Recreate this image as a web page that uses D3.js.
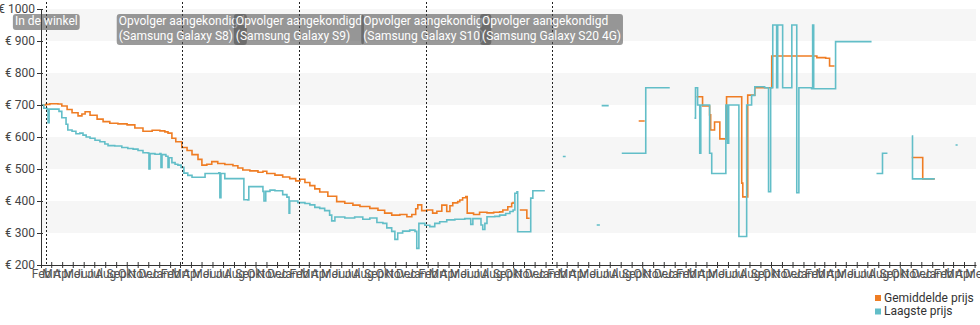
<!DOCTYPE html>
<html>
<head>
<meta charset="utf-8">
<script src="https://cdn.jsdelivr.net/npm/d3@7"></script>
<style>
  body { margin: 0; background: #fff; }
  svg { display: block; font-family: Roboto, "Noto Sans", sans-serif; }
</style>
</head>
<body>
<svg id="chart" width="980" height="325"></svg>
<script>
// Dutch month labels for the x axis
const monthNames = ["Jan", "Feb", "Mrt", "Apr", "Mei", "Jun", "Jul", "Aug", "Sep", "Okt", "Nov", "Dec"];
const yTicks = [200, 300, 400, 500, 600, 700, 800, 900, 1000];
const shadedBands = [[900, 1000], [700, 800], [500, 600], [300, 400]];

const eventDates = ["2016-02-16", "2017-03-06", "2018-02-01", "2019-01-28", "2020-01-18"];
const eventLabels = [
    ["In de winkel"],
    ["Opvolger aangekondigd", "(Samsung Galaxy S8)"],
    ["Opvolger aangekondigd", "(Samsung Galaxy S9)"],
    ["Opvolger aangekondigd", "(Samsung Galaxy S10)"],
    ["Opvolger aangekondigd", "(Samsung Galaxy S20 4G)"]
];

const seriesNames = ["Gemiddelde prijs", "Laagste prijs"];

// Gemiddelde prijs (null = no data)
const avgPrice = [
    ["2016-02-01", 700], ["2016-02-15", 702], ["2016-02-26", 704], ["2016-03-20", 703], ["2016-03-31", 697],
    ["2016-04-15", 686], ["2016-04-29", 676], ["2016-05-16", 666], ["2016-05-27", 672], ["2016-06-05", 679],
    ["2016-06-19", 668], ["2016-07-09", 656], ["2016-07-26", 648], ["2016-08-14", 643], ["2016-09-06", 641],
    ["2016-10-02", 638], ["2016-10-24", 628], ["2016-11-16", 618], ["2016-12-12", 621], ["2017-01-03", 619],
    ["2017-01-17", 616], ["2017-01-26", 612], ["2017-02-06", 596], ["2017-02-17", 585], ["2017-03-06", 567],
    ["2017-03-21", 558], ["2017-04-04", 545], ["2017-04-21", 530], ["2017-05-02", 512], ["2017-05-16", 515],
    ["2017-05-30", 523], ["2017-06-16", 517], ["2017-07-06", 514], ["2017-07-29", 510], ["2017-08-12", 503],
    ["2017-08-26", 497], ["2017-09-15", 494], ["2017-10-08", 490], ["2017-10-22", 493], ["2017-11-02", 486],
    ["2017-11-25", 481], ["2017-12-17", 475], ["2018-01-06", 470], ["2018-01-23", 463], ["2018-02-04", 468],
    ["2018-02-18", 458], ["2018-03-04", 448], ["2018-03-18", 438], ["2018-04-01", 428], ["2018-04-24", 415],
    ["2018-05-19", 398], ["2018-06-11", 393], ["2018-07-04", 387], ["2018-07-24", 383], ["2018-08-21", 377],
    ["2018-09-13", 371], ["2018-10-02", 362], ["2018-10-22", 356], ["2018-11-14", 358], ["2018-12-04", 351],
    ["2018-12-18", 358], ["2018-12-29", 376], ["2019-01-04", 388], ["2019-01-15", 370], ["2019-01-30", 372],
    ["2019-02-15", 362], ["2019-02-27", 368], ["2019-03-13", 387], ["2019-03-27", 367], ["2019-04-05", 385],
    ["2019-04-13", 394], ["2019-04-27", 398], ["2019-05-03", 403], ["2019-05-11", 410], ["2019-05-20", 414],
    ["2019-05-24", 362], ["2019-06-11", 358], ["2019-06-28", 365], ["2019-07-19", 363], ["2019-08-07", 365],
    ["2019-08-24", 366], ["2019-09-02", 372], ["2019-09-16", 382], ["2019-09-27", 393], ["2019-10-01", 398],
    ["2019-10-04", null],
    ["2019-10-20", 372], ["2019-11-09", 346], ["2019-11-17", 346], ["2019-11-18", null],
    ["2020-09-21", 650], ["2020-10-08", 650], ["2020-10-09", null],
    ["2021-03-04", 726], ["2021-03-21", 697], ["2021-04-10", 669], ["2021-04-13", 622], ["2021-04-24", 647],
    ["2021-05-09", 594], ["2021-05-28", 726], ["2021-07-10", 456], ["2021-07-13", 413], ["2021-07-27", 731],
    ["2021-08-16", 754], ["2021-10-03", 853], ["2022-01-24", 853], ["2022-02-08", 848], ["2022-03-05", 846],
    ["2022-03-16", 822], ["2022-03-30", 822], ["2022-04-01", null],
    ["2022-11-04", 536], ["2022-12-05", 469], ["2023-01-08", 469]
];

// Laagste prijs (null = no data)
const lowPrice = [
    ["2016-02-01", 700], ["2016-02-09", 690], ["2016-02-18", 687], ["2016-02-21", 645], ["2016-02-24", 687],
    ["2016-03-17", 687], ["2016-03-23", 680], ["2016-03-31", 660], ["2016-04-12", 640], ["2016-04-17", 622],
    ["2016-04-29", 618], ["2016-05-10", 610], ["2016-05-21", 612], ["2016-05-30", 606], ["2016-06-08", 600],
    ["2016-06-19", 596], ["2016-07-03", 590], ["2016-07-17", 585], ["2016-07-31", 578], ["2016-08-09", 573],
    ["2016-08-28", 572], ["2016-09-17", 567], ["2016-10-04", 564], ["2016-10-19", 562], ["2016-11-02", 558],
    ["2016-11-16", 551], ["2016-11-30", 550], ["2016-12-03", 500], ["2016-12-06", 548], ["2016-12-20", 546],
    ["2017-01-03", 548], ["2017-01-06", 505], ["2017-01-09", 545], ["2017-01-20", 540], ["2017-01-26", 505],
    ["2017-01-29", 535], ["2017-02-06", 520], ["2017-02-15", 515], ["2017-02-23", 512], ["2017-03-04", 505],
    ["2017-03-12", 487], ["2017-03-23", 480], ["2017-04-04", 474], ["2017-04-27", 474], ["2017-05-11", 486],
    ["2017-06-05", 486], ["2017-06-19", 488], ["2017-06-22", 410], ["2017-06-25", 486], ["2017-07-06", 470],
    ["2017-08-26", 470], ["2017-08-29", 404], ["2017-09-09", 403], ["2017-09-12", 445], ["2017-10-08", 445],
    ["2017-10-22", 430], ["2017-10-25", 400], ["2017-10-30", 430], ["2017-11-11", 434], ["2017-11-25", 432],
    ["2017-12-17", 420], ["2017-12-29", 412], ["2018-01-04", 362], ["2018-01-06", 400], ["2018-01-29", 395],
    ["2018-02-18", 392], ["2018-03-04", 388], ["2018-03-18", 380], ["2018-04-01", 377], ["2018-04-15", 370],
    ["2018-04-29", 356], ["2018-05-05", 338], ["2018-05-14", 350], ["2018-06-11", 347], ["2018-07-09", 350],
    ["2018-08-01", 343], ["2018-08-21", 347], ["2018-09-10", 333], ["2018-09-27", 330], ["2018-10-08", 316],
    ["2018-10-22", 305], ["2018-10-31", 280], ["2018-11-08", 300], ["2018-11-22", 306], ["2018-12-12", 309],
    ["2018-12-27", 305], ["2019-01-01", 252], ["2019-01-07", 330], ["2019-01-24", 324], ["2019-02-07", 320],
    ["2019-02-21", 330], ["2019-03-07", 335], ["2019-03-27", 341], ["2019-04-19", 343], ["2019-05-17", 345],
    ["2019-06-03", 327], ["2019-06-09", 345], ["2019-07-02", 325], ["2019-07-07", 311], ["2019-07-13", 330],
    ["2019-07-19", 351], ["2019-08-10", 352], ["2019-08-24", 356], ["2019-09-10", 361], ["2019-09-22", 367],
    ["2019-10-01", 372], ["2019-10-06", 424], ["2019-10-12", 429], ["2019-10-14", 304], ["2019-11-14", 304],
    ["2019-11-20", 409], ["2019-11-26", 432], ["2019-12-30", 432], ["2019-12-31", null],
    ["2020-02-19", 539], ["2020-02-27", 539], ["2020-02-28", null],
    ["2020-05-25", 325], ["2020-06-03", 325], ["2020-06-04", null],
    ["2020-06-08", 698], ["2020-06-28", 698], ["2020-06-29", null],
    ["2020-08-04", 549], ["2020-10-08", 549], ["2020-10-11", 754], ["2020-12-18", 754], ["2020-12-19", null],
    ["2021-02-26", 659], ["2021-03-01", 754], ["2021-03-07", 700], ["2021-03-13", 549], ["2021-03-16", 700],
    ["2021-04-10", 549], ["2021-04-16", 486], ["2021-05-26", 700], ["2021-05-31", 581], ["2021-06-03", 700],
    ["2021-07-02", 289], ["2021-07-24", 700], ["2021-08-07", 730], ["2021-08-16", 757], ["2021-09-13", 754],
    ["2021-09-24", 429], ["2021-09-30", 754], ["2021-10-06", 950], ["2021-10-17", 754], ["2021-10-20", 950],
    ["2021-11-03", 754], ["2021-11-29", 950], ["2021-12-13", 426], ["2021-12-19", 754], ["2022-01-24", 751],
    ["2022-01-27", 950], ["2022-01-30", 751], ["2022-04-02", 898], ["2022-07-13", 898], ["2022-07-14", null],
    ["2022-07-27", 486], ["2022-08-13", 549], ["2022-08-27", 549], ["2022-08-28", null],
    ["2022-11-04", 603], ["2022-11-06", 469], ["2023-01-08", 469], ["2023-01-09", null],
    ["2023-03-08", 575], ["2023-03-14", 575]
];

const colors = ["#ef7d24", "#62bec8"];

const parseDate = d3.utcParse("%Y-%m-%d");
const svg = d3.select("#chart");

const margin = { left: 41, right: 4, top: 9, bottom: 60 };
const width = 980, height = 325;

const x = d3.scaleUtc()
    .domain([parseDate("2016-02-01"), parseDate("2023-05-05")])
    .range([margin.left, width - margin.right]);

const y = d3.scaleLinear()
    .domain([200, 1000])
    .range([height - margin.bottom, margin.top]);

// shaded bands
svg.append("g")
    .selectAll("rect")
    .data(shadedBands)
    .join("rect")
    .attr("x", margin.left)
    .attr("width", x.range()[1] - margin.left)
    .attr("y", d => y(d[1]))
    .attr("height", d => y(d[0]) - y(d[1]))
    .attr("fill", "#f6f6f6");

// price lines
const line = d3.line()
    .defined(d => d[1] != null)
    .x(d => x(parseDate(d[0])))
    .y(d => y(d[1]))
    .curve(d3.curveStepAfter);

[avgPrice, lowPrice].forEach((series, i) => {
    svg.append("path")
        .datum(series)
        .attr("d", line)
        .attr("fill", "none")
        .attr("stroke", colors[i])
        .attr("stroke-width", 1.6);
});

// y axis
const yAxis = svg.append("g")
    .attr("transform", `translate(${margin.left},0)`)
    .call(d3.axisLeft(y).tickValues(yTicks).tickSize(4).tickFormat(d => "€ " + d));
yAxis.select(".domain").attr("stroke", "#333");
yAxis.selectAll(".tick line").attr("stroke", "#333").attr("x2", -4).attr("x1", 2);
yAxis.selectAll("text")
    .attr("x", -6)
    .attr("fill", "#444")
    .style("font-size", "12px")
    .style("font-family", "Roboto, sans-serif");

// x axis
const xAxis = svg.append("g")
    .attr("transform", `translate(0,${y(200)})`)
    .call(d3.axisBottom(x)
        .ticks(d3.utcMonth.every(1))
        .tickSize(3)
        .tickSizeOuter(0)
        .tickFormat(d => monthNames[d.getUTCMonth()]));
xAxis.select(".domain").attr("stroke", "#333");
xAxis.selectAll(".tick line").attr("stroke", "#333").attr("y1", -3).attr("y2", 3);
xAxis.selectAll("text")
    .attr("y", 4)
    .attr("fill", "#555")
    .style("font-size", "12px")
    .style("font-family", "Roboto, sans-serif");

// event markers
const events = eventDates.map((d, i) => ({ date: parseDate(d), lines: eventLabels[i] }));

svg.append("g")
    .selectAll("line")
    .data(events)
    .join("line")
    .attr("x1", d => Math.round(x(d.date)) + 0.5)
    .attr("x2", d => Math.round(x(d.date)) + 0.5)
    .attr("y1", 2)
    .attr("y2", y(200))
    .attr("stroke", "#222")
    .attr("stroke-width", 1)
    .attr("stroke-dasharray", "2,2");

const labelGroup = svg.append("g");
events.forEach(ev => {
    const g = labelGroup.append("g");
    const box = g.append("rect");
    const txt = g.append("text")
        .attr("fill", "#fff")
        .style("font-size", "12px")
        .style("font-family", "Roboto, sans-serif");
    ev.lines.forEach((l, j) => {
        txt.append("tspan").attr("x", 0).attr("y", 11 + j * 15).text(l);
    });
    const w = txt.node().getBBox().width + 4;
    const cx = x(ev.date);
    const left = cx - w / 2;
    txt.attr("transform", `translate(${left + 2},14)`);
    box.attr("x", left)
        .attr("y", 14)
        .attr("width", w)
        .attr("height", ev.lines.length * 15 + 1)
        .attr("rx", 3)
        .attr("fill", "rgba(75,75,75,0.56)");
});

// legend
const legend = svg.append("g").attr("transform", "translate(875,295)");
seriesNames.forEach((name, i) => {
    legend.append("rect")
        .attr("x", 0)
        .attr("y", i * 13.5)
        .attr("width", 6)
        .attr("height", 6)
        .attr("fill", colors[i]);
    legend.append("text")
        .attr("x", 9)
        .attr("y", i * 13.5 + 6.5)
        .attr("fill", "#333")
        .style("font-size", "12px")
        .text(name);
});
</script>
</body>
</html>
